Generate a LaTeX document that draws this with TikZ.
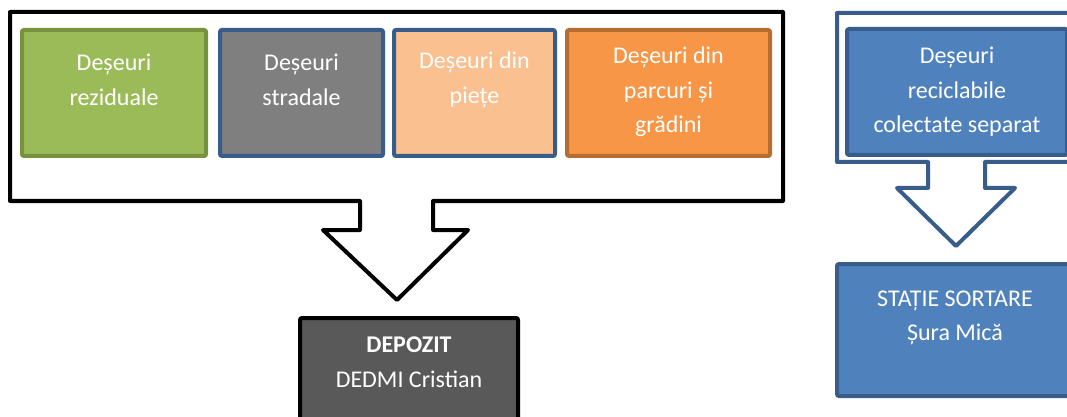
\documentclass[tikz,border=0pt]{standalone}
\usepackage{fontspec}
\setmainfont{Carlito}
\definecolor{cgreen}{HTML}{9BBB59}
\definecolor{cgreenb}{HTML}{76923C}
\definecolor{cgray}{HTML}{7F7F7F}
\definecolor{cpeach}{HTML}{FAC090}
\definecolor{corange}{HTML}{F79646}
\definecolor{corangeb}{HTML}{B66D31}
\definecolor{cblue}{HTML}{4F81BD}
\definecolor{cblueb}{HTML}{385D8A}
\definecolor{cdark}{HTML}{595959}
\begin{document}
\begin{tikzpicture}[x=0.75pt,y=-0.75pt,
  box/.style={draw, line width=3pt, rounded corners=1.5pt, inner sep=0pt},
  txt/.style={text=white, align=center, font=\fontsize{18pt}{26pt}\selectfont, inner sep=0pt},
  callout/.style={line width=3pt, line join=round, fill=white}]
\clip (0,0) rectangle (1067,417);
\fill[white] (0,0) rectangle (1067,417);
% left callout
\draw[callout, draw=black] (10,12) -- (783,12) -- (783,201) -- (433,201) -- (433,230) -- (468,230)
  -- (397,300) -- (323,230) -- (360,230) -- (360,201) -- (10,201) -- cycle;
% right callout
\draw[callout, draw=cblueb] (837,13) -- (1076,13) -- (1076,162) -- (985,162) -- (985,188) -- (1015,188)
  -- (956,246) -- (897,188) -- (928,188) -- (928,162) -- (837,162) -- cycle;
% boxes
\node[box, draw=cgreenb, fill=cgreen, minimum width=184*0.75pt, minimum height=126*0.75pt] (b1) at (114,93) {};
\node[box, draw=cblueb, fill=cgray, minimum width=163*0.75pt, minimum height=126*0.75pt] (b2) at (301.5,93) {};
\node[box, draw=cblueb, fill=cpeach, minimum width=161*0.75pt, minimum height=126*0.75pt] (b3) at (474.5,93) {};
\node[box, draw=corangeb, fill=corange, minimum width=203*0.75pt, minimum height=126*0.75pt] (b4) at (668.5,93) {};
\node[box, draw=cblueb, fill=cblue, minimum width=220*0.75pt, minimum height=126*0.75pt] (b5) at (957,92) {};
\node[box, draw=cblueb, fill=cblue, minimum width=236*0.75pt, minimum height=132*0.75pt] (st) at (955,330) {};
\node[box, draw=black, fill=cdark, minimum width=218*0.75pt, minimum height=120*0.75pt] (dep) at (409,378) {};
% texts
\node[txt] (t1) at (114,80) {Deșeuri\\reziduale};
\node[txt] (t2) at (301.5,80) {Deșeuri\\stradale};
\node[txt] (t3) at (474.5,80) {Deșeuri din\\piețe};
\node[txt] (t4) at (668.5,92) {Deșeuri din\\parcuri și\\grădini};
\node[txt] (t5) at (957,92) {Deșeuri\\reciclabile\\colectate separat};
\node[txt] (t6) at (955,318) {STAȚIE SORTARE\\Șura Mică};
\node[txt] (t7) at (409,362) {\textbf{DEPOZIT}\\DEDMI Cristian};
\end{tikzpicture}
\end{document}
